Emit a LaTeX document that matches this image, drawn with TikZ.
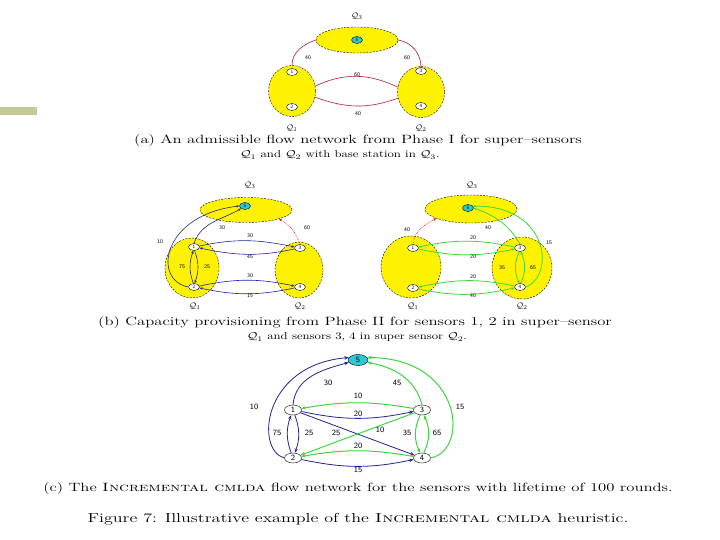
\documentclass[tikz,border=0pt]{standalone}
\usepackage{xcolor}
\usepackage{amsmath}
\usepackage{amssymb}
\usepackage{tikz}
\usetikzlibrary{shapes.geometric, arrows.meta, positioning, calc}

\definecolor{olivebar}{RGB}{197,200,155}
\definecolor{flowred}{RGB}{175,30,55}
\definecolor{flowblue}{RGB}{35,35,145}
\definecolor{flowgreen}{RGB}{60,215,60}
\definecolor{basecyan}{RGB}{45,200,215}

\begin{document}
\begin{tikzpicture}[x=1pt, y=1pt,
    supsens/.style={ellipse, draw, dash pattern=on 2pt off 1.3pt, fill=yellow, inner sep=0},
    sensor/.style={ellipse, draw, fill=white, inner sep=0, minimum width=11, minimum height=7, font=\fontsize{5}{5}\selectfont\sffamily},
    basest/.style={sensor, fill=basecyan},
    bigsensor/.style={sensor, minimum width=17, minimum height=10, font=\fontsize{8}{8}\selectfont\sffamily},
    qlbl/.style={font=\fontsize{8}{9}\selectfont},
    wt/.style={font=\fontsize{5.5}{6}\selectfont\sffamily},
    bigwt/.style={font=\fontsize{8}{9}\selectfont\sffamily},
    capline/.style={font=\fontsize{12}{14}\selectfont, xscale=1.39, inner sep=0},
    capsub/.style={font=\fontsize{10}{12}\selectfont, xscale=1.27, inner sep=0},
    figcap/.style={font=\fontsize{13}{15}\selectfont, xscale=1.39, inner sep=0},
    redflow/.style={draw=flowred, semithick},
    reddots/.style={draw=red, densely dotted, semithick, -{Stealth[length=3pt,width=2.5pt]}},
    blueflow/.style={draw=flowblue, line width=0.6pt, -{Stealth[length=3pt,width=2.5pt]}},
    greenflow/.style={draw=flowgreen, line width=0.8pt, -{Stealth[length=3pt,width=2.5pt]}},
    bluebig/.style={draw=flowblue, line width=0.8pt, -{Stealth[length=4.5pt,width=3.5pt]}},
    greenbig/.style={draw=flowgreen, line width=1pt, -{Stealth[length=4.5pt,width=3.5pt]}},
]
    \fill[white] (0,0) rectangle (720,-540);
    \useasboundingbox (0,0) rectangle (720,-540);
    \fill[olivebar] (0,-107) rectangle (37,-115);

    % (a) Phase I
    \node[supsens, minimum width=82, minimum height=26] (qa3) at (357,-40) {};
    \node[supsens, minimum width=47, minimum height=51] (qa1) at (292,-91) {};
    \node[supsens, minimum width=47, minimum height=51] (qa2) at (421,-92) {};
    \node[basest] (a5) at (357,-40) {5};
    \node[sensor] (a1) at (292,-72) {1};
    \node[sensor] (a2) at (292,-107) {2};
    \node[sensor] (a3) at (421,-71) {3};
    \node[sensor] (a4) at (421,-106) {4};
    \node[qlbl] at (357,-16) {$\mathcal{Q}_3$};
    \node[qlbl] at (292,-128) {$\mathcal{Q}_1$};
    \node[qlbl] at (421,-128) {$\mathcal{Q}_2$};
    \draw[redflow] (qa1.north) to[out=90,in=200] (qa3.west);
    \draw[redflow] (qa3.east) to[out=-10,in=90] (a3.north);
    \draw[redflow] (qa1.12) to[out=25,in=155] (qa2.168);
    \draw[redflow] (qa1.-15) to[out=-20,in=-160] (qa2.-165);
    \node[wt] at (308,-58) {40};
    \node[wt] at (407,-58) {60};
    \node[wt] at (357,-75) {60};
    \node[wt] at (358,-114) {40};
    \node[capline] at (358,-141) {(a) An admissible flow network from Phase I for super--sensors};
    \node[capsub] at (340,-155) {$\mathcal{Q}_1$ and $\mathcal{Q}_2$ with base station in $\mathcal{Q}_3$.};

    % (b) Phase II, sensors 1 and 2
    \node[supsens, minimum width=92, minimum height=25] (qb3) at (246,-210) {};
    \node[supsens, minimum width=54, minimum height=60] (qb1) at (192,-268) {};
    \node[supsens, minimum width=48, minimum height=56] (qb2) at (299,-270) {};
    \node[basest] (b5) at (245,-206) {5};
    \node[sensor] (b1) at (194,-247) {1};
    \node[sensor] (b2) at (194,-287) {2};
    \node[sensor] (b3) at (300,-248) {3};
    \node[sensor] (b4) at (300,-287) {4};
    \node[qlbl] at (250,-185) {$\mathcal{Q}_3$};
    \node[qlbl] at (195,-306) {$\mathcal{Q}_1$};
    \node[qlbl] at (300,-306) {$\mathcal{Q}_2$};
    \draw[reddots] (b3.north) to[out=110,in=-30] (qb3.-15);
    \draw[blueflow] (b1.north) to[out=70,in=210] (b5.south west);
    \draw[blueflow] (b2.west) .. controls (152,-280) and (162,-215) .. (b5.west);
    \draw[blueflow] (b1.10) to[out=12,in=168] (b3.170);
    \draw[blueflow] (b3.-170) to[out=-168,in=-12] (b1.-10);
    \draw[blueflow] (b2.10) to[out=12,in=168] (b4.170);
    \draw[blueflow] (b4.-170) to[out=-168,in=-12] (b2.-10);
    \draw[blueflow] (b2.100) to[bend left=20] (b1.-100);
    \draw[blueflow] (b1.-80) to[bend left=20] (b2.80);
    \node[wt] at (307,-228) {60};
    \node[wt] at (222,-228) {30};
    \node[wt] at (160,-242) {10};
    \node[wt] at (250,-236) {30};
    \node[wt] at (250,-257) {45};
    \node[wt] at (250,-276) {30};
    \node[wt] at (250,-296) {15};
    \node[wt] at (182,-267) {75};
    \node[wt] at (207,-267) {25};

    % (b) Phase II, sensors 3 and 4
    \node[supsens, minimum width=92, minimum height=28] (rq3) at (471,-209) {};
    \node[supsens, minimum width=60, minimum height=62] (rq1) at (411,-267) {};
    \node[supsens, minimum width=60, minimum height=62] (rq2) at (522,-268) {};
    \node[basest] (r5) at (468,-208) {5};
    \node[sensor] (r1) at (413,-248) {1};
    \node[sensor] (r2) at (413,-288) {2};
    \node[sensor] (r3) at (520,-248) {3};
    \node[sensor] (r4) at (520,-287) {4};
    \node[qlbl] at (472,-185) {$\mathcal{Q}_3$};
    \node[qlbl] at (413,-306) {$\mathcal{Q}_1$};
    \node[qlbl] at (522,-306) {$\mathcal{Q}_2$};
    \draw[reddots] (r1.north) to[out=85,in=210] (rq3.195);
    \draw[greenflow] (r3.north) to[out=120,in=-20] (r5.east);
    \draw[greenflow] (r4.east) .. controls (556,-275) and (548,-205) .. (r5.20);
    \draw[greenflow] (r3.170) to[out=168,in=12] (r1.10);
    \draw[greenflow] (r1.-10) to[out=-12,in=-168] (r3.-170);
    \draw[greenflow] (r4.170) to[out=168,in=12] (r2.10);
    \draw[greenflow] (r2.-10) to[out=-12,in=-168] (r4.-170);
    \draw[greenflow] (r3.-100) to[bend right=25] (r4.100);
    \draw[greenflow] (r4.80) to[bend right=25] (r3.-80);
    \node[wt] at (407,-230) {40};
    \node[wt] at (488,-228) {40};
    \node[wt] at (549,-243) {15};
    \node[wt] at (473,-238) {20};
    \node[wt] at (473,-257) {20};
    \node[wt] at (473,-277) {20};
    \node[wt] at (473,-296) {40};
    \node[wt] at (502,-268) {35};
    \node[wt] at (533,-268) {65};
    \node[capline] at (355,-323) {(b) Capacity provisioning from Phase II for sensors 1, 2 in super--sensor};
    \node[capsub] at (357,-337) {$\mathcal{Q}_1$ and sensors 3, 4 in super sensor $\mathcal{Q}_2$.};

    % (c) Incremental network
    \node[bigsensor, fill=basecyan, minimum width=20, minimum height=11] (c5) at (358,-360) {5};
    \node[bigsensor] (c1) at (293,-410) {1};
    \node[bigsensor] (c3) at (422,-410) {3};
    \node[bigsensor] (c2) at (293,-458) {2};
    \node[bigsensor] (c4) at (422,-458) {4};
    \draw[bluebig] (c1.north) to[out=85,in=195] (c5.195);
    \draw[bluebig] (c2.west) .. controls (255,-450) and (262,-365) .. (c5.165);
    \draw[greenbig] (c3.north) to[out=105,in=-10] (c5.-15);
    \draw[greenbig] (c4.east) .. controls (470,-450) and (462,-358) .. (c5.15);
    \draw[greenbig] (c3.170) to[out=170,in=10] (c1.10);
    \draw[bluebig] (c1.-10) to[out=-12,in=192] (c3.-170);
    \draw[bluebig] (c1) -- (c4);
    \draw[greenbig] (c3) -- (c2);
    \draw[greenbig] (c4.170) to[out=170,in=10] (c2.10);
    \draw[bluebig] (c2.-10) to[out=-12,in=192] (c4.-170);
    \draw[bluebig] (c2.110) to[bend left=20] (c1.-110);
    \draw[bluebig] (c1.-70) to[bend left=20] (c2.70);
    \draw[greenbig] (c3.-110) to[bend right=25] (c4.110);
    \draw[greenbig] (c4.70) to[bend right=25] (c3.-70);
    \node[bigwt] at (328,-383) {30};
    \node[bigwt] at (254,-407) {10};
    \node[bigwt] at (397,-383) {45};
    \node[bigwt] at (460,-407) {15};
    \node[bigwt] at (358,-396) {10};
    \node[bigwt] at (358,-414) {20};
    \node[bigwt] at (336,-433) {25};
    \node[bigwt] at (380,-430) {10};
    \node[bigwt] at (358,-446) {20};
    \node[bigwt] at (358,-470) {15};
    \node[bigwt] at (277,-433) {75};
    \node[bigwt] at (309,-433) {25};
    \node[bigwt] at (407,-433) {35};
    \node[bigwt] at (437,-433) {65};
    \node[capline] at (358,-489) {(c) The \textsc{Incremental cmlda} flow network for the sensors with lifetime of 100 rounds.};

    % figure caption
    \node[figcap] at (358,-519) {Figure 7: Illustrative example of the \textsc{Incremental cmlda} heuristic.};
\end{tikzpicture}
\end{document}
